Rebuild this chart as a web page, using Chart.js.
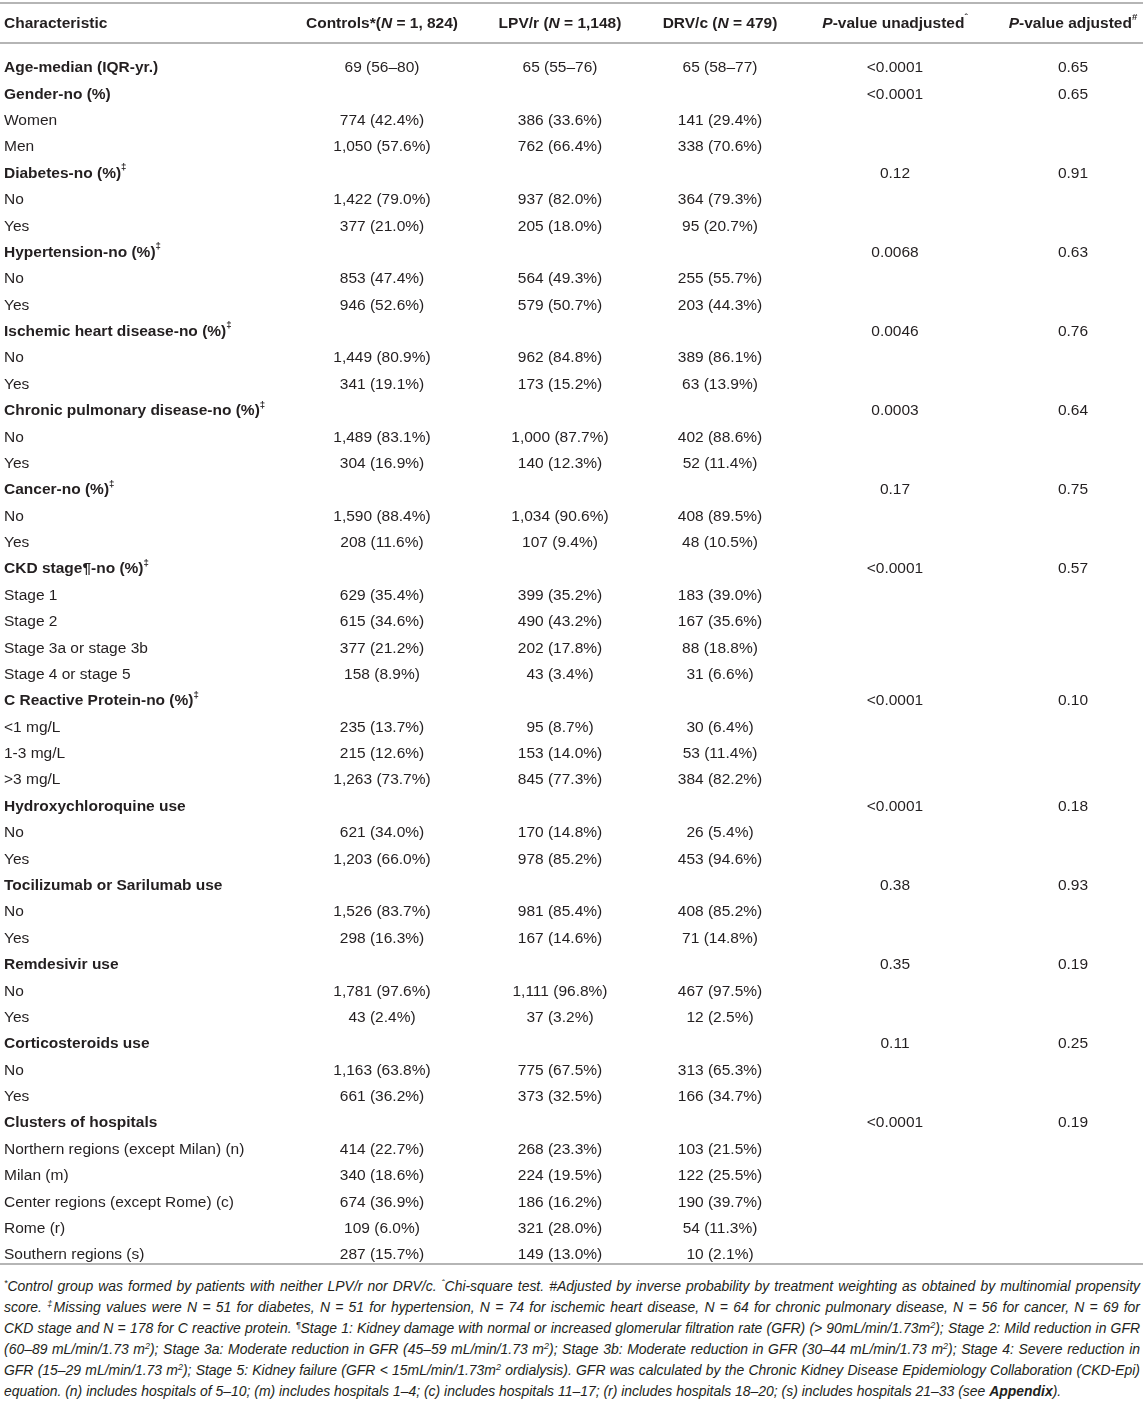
<!DOCTYPE html>
<html>
<head>
<meta charset="utf-8">
<script src="https://cdn.jsdelivr.net/npm/chart.js@4.4.1/dist/chart.umd.min.js"></script>
<style>
  body { margin: 0; background: #fff; }
  #wrap { position: relative; width: 1143px; height: 1268px; }
  #notes { position: absolute; left: 4px; top: 1276px; width: 1136px; font: italic 13.95px "Liberation Sans", Arial, sans-serif; color: #231f20; }
  #notes div { height: 21px; line-height: 21px; white-space: nowrap; text-align: justify; text-align-last: justify; }
  #notes div.last { text-align-last: left; }
  #notes sup { font-size: 9px; line-height: 0; vertical-align: 5px; }
  #notes b { font-weight: bold; }
</style>
</head>
<body>
<div id="wrap"><canvas id="tableChart"></canvas></div>
<div id="notes">
  <div><sup>*</sup>Control group was formed by patients with neither LPV/r nor DRV/c. <sup>ˆ</sup>Chi-square test. #Adjusted by inverse probability by treatment weighting as obtained by multinomial propensity</div>
  <div>score. <sup>‡</sup>Missing values were N = 51 for diabetes, N = 51 for hypertension, N = 74 for ischemic heart disease, N = 64 for chronic pulmonary disease, N = 56 for cancer, N = 69 for</div>
  <div>CKD stage and N = 178 for C reactive protein. <sup>¶</sup>Stage 1: Kidney damage with normal or increased glomerular filtration rate (GFR) (&gt; 90mL/min/1.73m<sup>2</sup>); Stage 2: Mild reduction in GFR</div>
  <div>(60–89 mL/min/1.73 m<sup>2</sup>); Stage 3a: Moderate reduction in GFR (45–59 mL/min/1.73 m<sup>2</sup>); Stage 3b: Moderate reduction in GFR (30–44 mL/min/1.73 m<sup>2</sup>); Stage 4: Severe reduction in</div>
  <div>GFR (15–29 mL/min/1.73 m<sup>2</sup>); Stage 5: Kidney failure (GFR &lt; 15mL/min/1.73m<sup>2</sup> ordialysis). GFR was calculated by the Chronic Kidney Disease Epidemiology Collaboration (CKD-Epi)</div>
  <div class="last">equation. (n) includes hospitals of 5–10; (m) includes hospitals 1–4; (c) includes hospitals 11–17; (r) includes hospitals 18–20; (s) includes hospitals 21–33 (see <b>Appendix</b>).</div>
</div>
<script>
// column headers ({i:..} italic, {s:..} superscript)
const headers = ['Characteristic', 'Controls*({i:N} = 1, 824)', 'LPV/r ({i:N} = 1,148)', 'DRV/c ({i:N} = 479)',
  '{i:P}-value unadjusted{s:ˆ}', '{i:P}-value adjusted{s:#}'];

const rowLabels = [
  'Age-median (IQR-yr.)',
  'Gender-no (%)', 'Women', 'Men',
  'Diabetes-no (%){s:‡}', 'No', 'Yes',
  'Hypertension-no (%){s:‡}', 'No', 'Yes',
  'Ischemic heart disease-no (%){s:‡}', 'No', 'Yes',
  'Chronic pulmonary disease-no (%){s:‡}', 'No', 'Yes',
  'Cancer-no (%){s:‡}', 'No', 'Yes',
  'CKD stage¶-no (%){s:‡}', 'Stage 1', 'Stage 2', 'Stage 3a or stage 3b', 'Stage 4 or stage 5',
  'C Reactive Protein-no (%){s:‡}', '<1 mg/L', '1-3 mg/L', '>3 mg/L',
  'Hydroxychloroquine use', 'No', 'Yes',
  'Tocilizumab or Sarilumab use', 'No', 'Yes',
  'Remdesivir use', 'No', 'Yes',
  'Corticosteroids use', 'No', 'Yes',
  'Clusters of hospitals', 'Northern regions (except Milan) (n)', 'Milan (m)',
  'Center regions (except Rome) (c)', 'Rome (r)', 'Southern regions (s)'
];

const controls = ['69 (56–80)', '', '774 (42.4%)', '1,050 (57.6%)', '', '1,422 (79.0%)', '377 (21.0%)',
  '', '853 (47.4%)', '946 (52.6%)', '', '1,449 (80.9%)', '341 (19.1%)', '', '1,489 (83.1%)', '304 (16.9%)',
  '', '1,590 (88.4%)', '208 (11.6%)', '', '629 (35.4%)', '615 (34.6%)', '377 (21.2%)', '158 (8.9%)',
  '', '235 (13.7%)', '215 (12.6%)', '1,263 (73.7%)', '', '621 (34.0%)', '1,203 (66.0%)',
  '', '1,526 (83.7%)', '298 (16.3%)', '', '1,781 (97.6%)', '43 (2.4%)', '', '1,163 (63.8%)', '661 (36.2%)',
  '', '414 (22.7%)', '340 (18.6%)', '674 (36.9%)', '109 (6.0%)', '287 (15.7%)'];

const lpv = ['65 (55–76)', '', '386 (33.6%)', '762 (66.4%)', '', '937 (82.0%)', '205 (18.0%)',
  '', '564 (49.3%)', '579 (50.7%)', '', '962 (84.8%)', '173 (15.2%)', '', '1,000 (87.7%)', '140 (12.3%)',
  '', '1,034 (90.6%)', '107 (9.4%)', '', '399 (35.2%)', '490 (43.2%)', '202 (17.8%)', '43 (3.4%)',
  '', '95 (8.7%)', '153 (14.0%)', '845 (77.3%)', '', '170 (14.8%)', '978 (85.2%)',
  '', '981 (85.4%)', '167 (14.6%)', '', '1,111 (96.8%)', '37 (3.2%)', '', '775 (67.5%)', '373 (32.5%)',
  '', '268 (23.3%)', '224 (19.5%)', '186 (16.2%)', '321 (28.0%)', '149 (13.0%)'];

const drv = ['65 (58–77)', '', '141 (29.4%)', '338 (70.6%)', '', '364 (79.3%)', '95 (20.7%)',
  '', '255 (55.7%)', '203 (44.3%)', '', '389 (86.1%)', '63 (13.9%)', '', '402 (88.6%)', '52 (11.4%)',
  '', '408 (89.5%)', '48 (10.5%)', '', '183 (39.0%)', '167 (35.6%)', '88 (18.8%)', '31 (6.6%)',
  '', '30 (6.4%)', '53 (11.4%)', '384 (82.2%)', '', '26 (5.4%)', '453 (94.6%)',
  '', '408 (85.2%)', '71 (14.8%)', '', '467 (97.5%)', '12 (2.5%)', '', '313 (65.3%)', '166 (34.7%)',
  '', '103 (21.5%)', '122 (25.5%)', '190 (39.7%)', '54 (11.3%)', '10 (2.1%)'];

// rows that open a section (bold), with their p-values
const sectionRows = [0, 1, 4, 7, 10, 13, 16, 19, 24, 28, 31, 34, 37, 40];
const pUnadjusted = ['<0.0001', '<0.0001', '0.12', '0.0068', '0.0046', '0.0003', '0.17',
  '<0.0001', '<0.0001', '<0.0001', '0.38', '0.35', '0.11', '<0.0001'];
const pAdjusted = ['0.65', '0.65', '0.91', '0.63', '0.76', '0.64', '0.75',
  '0.57', '0.10', '0.18', '0.93', '0.19', '0.25', '0.19'];

// layout
const colX = [4, 382, 560, 720, 895, 1073];
const headerRow = -1.68;
const ruleRows = [-2.43, -0.91, 45.38];
const FONT = '"Liberation Sans", Arial, sans-serif';
const SIZE = 15.5;
const INK = '#231f20';

const pCol = (vals) => rowLabels.map((_, r) => {
  const k = sectionRows.indexOf(r);
  return k >= 0 ? vals[k] : '';
});

const columns = [rowLabels, controls, lpv, drv, pCol(pUnadjusted), pCol(pAdjusted)];

const datasets = columns.map((col, c) => {
  const pts = [{ x: colX[c], y: headerRow, text: headers[c], bold: true }];
  col.forEach((t, r) => {
    if (t) pts.push({ x: colX[c], y: r, text: t, bold: c === 0 && sectionRows.includes(r) });
  });
  return { label: headers[c], data: pts, pointRadius: 0, left: c === 0 };
});

function segments(str) {
  const out = [];
  const re = /\{(i|s):([^}]*)\}/g;
  let last = 0, m;
  while ((m = re.exec(str))) {
    if (m.index > last) out.push({ t: str.slice(last, m.index), k: '' });
    out.push({ t: m[2], k: m[1] });
    last = re.lastIndex;
  }
  if (last < str.length) out.push({ t: str.slice(last), k: '' });
  return out;
}

function fontFor(seg, bold) {
  const w = bold ? 'bold ' : '';
  if (seg.k === 'i') return 'italic ' + w + SIZE + 'px ' + FONT;
  if (seg.k === 's') return w + (SIZE * 0.62) + 'px ' + FONT;
  return w + SIZE + 'px ' + FONT;
}

const tableText = {
  id: 'tableText',
  afterDatasetsDraw(chart) {
    const ctx = chart.ctx;
    const ys = chart.scales.y;
    ctx.save();
    // horizontal rules
    ctx.strokeStyle = '#b5b5b5';
    ctx.lineWidth = 2;
    ruleRows.forEach(v => {
      const py = Math.round(ys.getPixelForValue(v));
      ctx.beginPath();
      ctx.moveTo(chart.chartArea.left, py);
      ctx.lineTo(chart.chartArea.right, py);
      ctx.stroke();
    });
    ctx.fillStyle = INK;
    ctx.textBaseline = 'middle';
    ctx.textAlign = 'left';
    chart.data.datasets.forEach((ds, i) => {
      const meta = chart.getDatasetMeta(i);
      meta.data.forEach((pt, j) => {
        const raw = ds.data[j];
        const segs = segments(raw.text);
        let total = 0;
        segs.forEach(s => { ctx.font = fontFor(s, raw.bold); s.w = ctx.measureText(s.t).width; total += s.w; });
        let x = ds.left ? pt.x : pt.x - total / 2;
        segs.forEach(s => {
          ctx.font = fontFor(s, raw.bold);
          ctx.fillText(s.t, x, s.k === 's' ? pt.y - 5 : pt.y + 1);
          x += s.w;
        });
      });
    });
    ctx.restore();
  }
};

new Chart(document.getElementById('tableChart'), {
  type: 'scatter',
  data: { datasets },
  options: {
    responsive: true,
    maintainAspectRatio: false,
    animation: false,
    layout: { padding: 0 },
    plugins: { legend: { display: false }, tooltip: { enabled: false } },
    scales: {
      x: { type: 'linear', min: 0, max: 1143, display: false },
      y: { type: 'linear', reverse: true, min: -2.54, max: 45.53, display: false }
    }
  },
  plugins: [tableText]
});
</script>
</body>
</html>
